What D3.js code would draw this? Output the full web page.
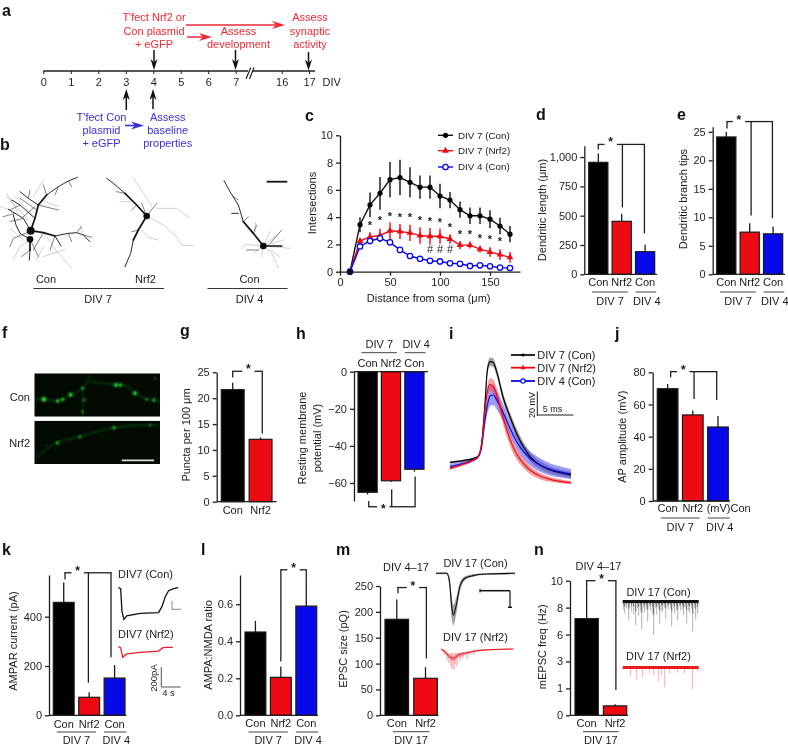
<!DOCTYPE html>
<html><head><meta charset="utf-8">
<script src="https://cdn.jsdelivr.net/npm/d3@7"></script>
<style>
html,body{margin:0;padding:0;background:#fff}
svg{display:block;filter:blur(.35px)}
text{font-family:"Liberation Sans",Arial,sans-serif;fill:#1a1a1a}
</style></head><body>
<script>
// ---------- DATA ----------
const timelineDays=[0,1,2,3,4,5,6,7,16,17];
const shollDist=[10,20,30,40,50,60,70,80,90,100,110,120,130,140,150,160,170];
const shollCon7=[0,3.45,4.9,5.75,6.75,6.9,6.55,6.2,6.2,5.55,5.25,4.55,4.1,4.1,3.85,3.35,2.75];
const shollCon7Err=[0,.55,.9,1.2,1.3,1.3,1.1,.85,.85,.9,.6,.6,.6,.6,.65,.6,.6];
const shollNrf2=[0,2.25,2.55,2.65,3,2.95,2.85,2.65,2.6,2.6,2.4,1.95,1.95,1.65,1.45,1.25,1.05];
const shollNrf2Err=[0,.2,.35,.5,.6,.55,.6,.6,.6,.55,.35,.3,.25,.25,.35,.4,.4];
const shollCon4=[0,1.85,2.25,2.45,2.15,1.6,1.15,.95,.8,.75,.62,.58,.42,.47,.4,.3,.27];
const shollStarDist=[30,40,50,60,70,80,90,100,110,120,130,140,150,160];
const shollStarY=[3.42,3.74,4.03,3.96,3.98,3.74,3.67,3.6,3.25,2.76,2.76,2.44,2.37,2.2];
const shollHashDist=[90,100,110];
const shollHashY=[1.65,1.65,1.65];
const shollLegend=['DIV 7 (Con)','DIV 7 (Nrf2)','DIV 4 (Con)'];

const threeCats=['Con','Nrf2','Con'];
const twoCats=['Con','Nrf2'];
const lengthVals=[955,452,193], lengthErr=[76,65,60];
const tipsVals=[24.1,7.4,7.1], tipsErr=[.85,1.56,1.3];
const punctaVals=[21.65,12.05], punctaErr=[1.35,.35];
const rmpVals=[-65,-58.8,-52.6], rmpErr=[1.2,.6,1.3];
const apVals=[69.8,53.5,46], apErr=[2.9,2.7,6.8];
const apCats=['Con','Nrf2','(mV)Con'];
const ampaVals=[458,73,151], ampaErr=[81,20,53];
const ratioVals=[.45,.205,.59], ratioErr=[.06,.058,.15];
const epscVals=[185.6,71.5], epscErr=[38.4,21.5];
const freqVals=[7.18,.7], freqErr=[2.25,.12];
const freqTickLabels=['0','1','3','6','8','10'];

const apTimes=[0,1.85,3.24,3.94,4.4,4.86,5.19,5.56,6.02,6.48,7.41,8.33,9.26,10.19,11.11,12.5,13.89,15.28,16.8];
const apCon7=[17.2,18.4,19.8,21.6,30.6,58.8,82.4,88.2,87.5,81.2,62.4,49.4,37.6,28.2,21.2,15.3,11.8,9.9,8.2];
const apNrf2=[12.9,16,18.8,21.6,30.6,54.1,67.1,72,70.6,64.7,48.2,33.4,23.1,16.5,11.8,7.5,5.2,3.8,2.8];
const apCon4=[14.1,16.5,18.8,21.2,28.2,47.1,57.6,64,64.7,61.2,51.8,41.2,31.8,24.7,20,15.3,12.2,10.4,9];
const apCon7Sem=[.8,.8,.8,.8,1,2,3,3,3,3,3,3,3.3,3.3,3,2.8,2.5,2.3,2.2];
const apNrf2Sem=[1,1,1,1,1.5,3,4,4.5,5,5,5,4.5,4,3.3,2.8,2.2,1.8,1.4,1.2];
const apCon4Sem=[2,1.5,1,1,1.5,4,6,7,7,6.5,6,5.5,5,5,5,4.8,4.4,4,3.5];

const ampaTraceConT=[0,.48,.76,1.17,1.72,4.48,8.28,8.97,9.66,10.34,11.38,12.28];
const ampaTraceConI=[0,-10,-236,-312,-279,-253,-246,-187,-89,-30,-10,0];
const ampaTraceNrfT=[0,.48,.9,1.72,4.48,8.28,9.17,10,11.24];
const ampaTraceNrfI=[0,-10,-105,-72,-56,-43,-10,-7,-7];

const epscConT=[0,10.7,13.3,15.7,17.3,20,24,29,37,50.7,79];
const epscConI=[0,0,-7,-33,-42,-33,-13,-5,-2.3,-.7,0];
const epscConLo=[-1,-1,-12,-45,-52,-42,-18,-7,-3.5,-1.5,-1];
const epscConHi=[.8,1,-3,-22,-32,-25,-9,-3,-1,0,.8];
const epscNrfT=[5,9,14,17.3,22.3,30.7,40.7,54,77.3];
const epscNrfI=[0,-2.7,-8.3,-9.3,-6,-3.7,-1.7,-.7,0];
const epscNrfLo=[-1,-5,-10,-12,-9,-5.5,-3,-1.5,-.6];
const epscNrfHi=[.5,-1,-6,-7,-4,-2.7,-1,0,.5];
const epscNrfSpikeT=[8,11,13,15,16,18,19,21,24,27,31,34,38,42,47];
const epscNrfSpikeI=[-6,-11,-14,-17,-20,-21,-15,-17,-12,-9,-10,-6,-6,-4,-3];

const miniConT=[1,2,4,6,7,9,11,13,15,16,18,19,21,22,24,25,27,28,30,31,33,34,36,37,39,40,42,43,45,46,48,49,51,52,54,55,57,58,60,61,63,64,66,67,69,70,72,73,75];
const miniConA=[8,12,7,18,6,10,13,24,7,14,9,28,6,11,8,20,5,9,12,33,6,13,7,22,9,10,6,17,5,8,7,25,6,12,9,19,5,9,8,14,6,22,9,11,7,30,6,18,12];
const miniNrfT=[8,14,20,27,31,36,39,42,47,55,62,70,75];
const miniNrfA=[9,12,10,6,8,14,8,20,6,5,6,22,4];

const neuronThick=[
 [[92,242],[105,205],[115,165],[140,135]],
 [[92,242],[130,248],[165,258]],
 [[90,268],[90,300]],
 [[440,198],[410,165],[375,130]],
 [[440,198],[415,240],[400,270]],
 [[790,288],[760,250],[730,215]],
 [[790,288],[845,288]]];
const neuronMedium=[
 [[140,135],[175,110],[205,93],[232,82]],
 [[165,258],[205,250],[230,248],[250,255],[270,275]],
 [[165,258],[183,288]],
 [[90,300],[88,330]],
 [[92,242],[70,205],[45,190],[25,178]],
 [[105,205],[60,165],[35,150]],
 [[115,165],[85,145],[60,125]],
 [[90,268],[60,250],[48,225],[40,195]],
 [[375,130],[340,100],[320,85]],
 [[400,270],[392,310],[375,350]],
 [[730,215],[715,165],[690,125],[672,92]],
 [[715,190],[695,190]]];
const neuronTwig=[
 [[60,165],[30,180]],[[70,205],[30,215]],[[45,190],[10,200]],[[85,145],[90,120]],[[110,180],[60,145]],
 [[115,165],[175,180]],[[140,135],[130,105]],[[175,110],[165,135]],[[205,93],[215,110]],[[130,248],[100,300]],
 [[165,258],[150,300]],[[205,250],[215,275]],[[230,248],[245,230]],[[250,255],[275,262]],[[90,268],[115,320]],
 [[90,300],[65,320]],[[88,245],[40,265],[30,290]],[[105,170],[70,200]],
 [[440,198],[470,160]],[[440,198],[425,160]],[[410,165],[395,180]],[[375,130],[350,125]],[[415,240],[395,245]],
 [[730,215],[745,200]],[[760,250],[770,225]],[[700,140],[715,150]],[[775,300],[740,300]],[[810,280],[845,240]]];
const neuronThin=[
 [[25,178],[0,170]],[[125,150],[175,170]],[[90,268],[60,290],[40,328]],
 [[130,248],[175,310],[215,355]],[[130,290],[110,330]],[[195,298],[130,320]],
 [[240,225],[250,255]],[[100,140],[130,90]],[[55,190],[20,130]],[[70,270],[30,235]],
 [[85,210],[20,140]],[[95,190],[45,140]],
 [[440,198],[490,225],[525,255],[545,285],[580,287]],
 [[440,198],[400,155],[360,155]],[[425,240],[445,262],[475,270]],
 [[455,170],[430,130],[400,85]],[[470,175],[530,175],[570,205]],
 [[790,288],[735,283],[725,295]],[[790,288],[810,245]],[[790,288],[830,255]],
 [[790,288],[815,310],[835,355]],[[790,288],[785,320]],[[790,288],[870,295]],
 [[765,245],[767,215]],[[790,288],[760,310]],[[790,288],[850,270]],[[810,300],[840,320]]];
const neuronSomaX=[92,90,440,790], neuronSomaY=[242,268,198,288], neuronSomaR=[12,10,10,10];

const conDendrites=[[[2,75],[27,78],[77,82],[112,62],[145,45],[167,5]],[[145,45],[147,130]],[[167,25],[247,35],[282,40],[302,60],[337,78],[362,80],[377,90]]];
const conPunctaX=[29,70,85,109,145,150,144,245,258,302,337,359,362];
const conPunctaY=[78,83,78,64,45,80,115,35,35,60,78,80,15];
const conPunctaR=[7,5,5,6,4,3.5,3.5,6,5,6,3.5,4.5,2.5];
const nrfDendrites=[[[7,110],[67,66],[137,48],[237,21],[347,13],[377,16]]];
const nrfPunctaX=[69,137,239,347,37,10];
const nrfPunctaY=[66,48,21,14,75,106];
const nrfPunctaR=[4.5,3.5,4.5,3,1.5,1.5];

// ---------- HELPERS ----------
const W=788,H=746,INK='#1f1f1f',RED='#ee0a12',BLUE='#0808e8',TRED='#ee2a35',TBLUE='#3a30d8';
const svg=d3.select('body').append('svg').attr('width',W).attr('height',H).attr('viewBox',`0 0 ${W} ${H}`);
svg.append('rect').attr('width',W).attr('height',H).attr('fill','#fff');
const defs=svg.append('defs');
defs.append('filter').attr('id','glow').attr('x','-60%').attr('y','-60%').attr('width','220%').attr('height','220%')
 .append('feGaussianBlur').attr('stdDeviation',1);

function T(x,y,s,o={}){
 const t=svg.append('text').attr('x',x).attr('y',y).attr('dy',o.dy??'.35em').text(s)
  .attr('font-size',o.size||11).attr('text-anchor',o.anchor||'middle');
 if(o.fill)t.style('fill',o.fill);
 if(o.weight)t.attr('font-weight',o.weight);
 if(o.rot)t.attr('transform',`rotate(${o.rot} ${x} ${y})`);
 return t;
}
function L(x1,y1,x2,y2,o={}){
 return svg.append('line').attr('x1',x1).attr('y1',y1).attr('x2',x2).attr('y2',y2)
  .attr('stroke',o.c||INK).attr('stroke-width',o.w||1.3).attr('stroke-linecap',o.cap||'butt');
}
function arrow(x1,y1,x2,y2,c,hl=10,hw=7,w=1.5){
 const d=Math.hypot(x2-x1,y2-y1),ux=(x2-x1)/d,uy=(y2-y1)/d,nx=-uy,ny=ux;
 L(x1,y1,x2-ux*hl*.7,y2-uy*hl*.7,{c,w});
 const p=[[x2,y2],[x2-ux*hl+nx*hw/2,y2-uy*hl+ny*hw/2],[x2-ux*hl*.7,y2-uy*hl*.7],[x2-ux*hl-nx*hw/2,y2-uy*hl-ny*hw/2]];
 svg.append('polygon').attr('points',p.map(q=>q.join(',')).join(' ')).attr('fill',c);
}
function letter(x,y,s){T(x,y,s,{size:16,weight:'bold',anchor:'start',dy:0,fill:'#111'})}
function styleAxis(g,size=11){
 g.selectAll('path,line').attr('stroke',INK).attr('stroke-width',1.3);
 g.selectAll('text').attr('font-size',size).style('fill',INK);
}
function barPanel(p){
 const y=d3.scaleLinear().domain(p.dom).range(p.yr);
 const x=d3.scaleBand().domain(d3.range(p.vals.length)).range(p.bars).paddingInner(p.pad||.18);
 const step=x.step(),cx=i=>x(0)+x.bandwidth()/2+i*step;
 const colors=p.colors||['#000',RED,BLUE];
 svg.append('g').selectAll('rect').data(p.vals).join('rect')
  .attr('x',(d,i)=>x(i)).attr('width',x.bandwidth())
  .attr('y',d=>Math.min(y(d),y(0))).attr('height',d=>Math.abs(y(d)-y(0)))
  .attr('fill',(d,i)=>colors[i]).attr('stroke','#1a1a1a').attr('stroke-width',1.2);
 svg.append('g').selectAll('line').data(p.vals).join('line')
  .attr('x1',(d,i)=>cx(i)).attr('x2',(d,i)=>cx(i)).attr('y1',d=>y(d))
  .attr('y2',(d,i)=>y(d+Math.sign(d)*p.errs[i])).attr('stroke','#1a1a1a').attr('stroke-width',1.3);
 const ax=d3.axisLeft(y).tickValues(p.ticks).tickSize(4).tickSizeOuter(0).tickPadding(3);
 if(p.fmt)ax.tickFormat(p.fmt);
 styleAxis(svg.append('g').attr('transform',`translate(${p.ax},0)`).call(ax));
 L(p.ax,y(0),p.xEnd,y(0));
 p.cats.forEach((c,i)=>{
  if(p.catAnchor&&p.catAnchor[i]) T(p.catAnchor[i],p.labY,c,{anchor:'start'});
  else T(cx(i),p.labY,c);
 });
 (p.groups||[]).forEach(g=>{
  const multi=g.a!==g.b,ins=p.inset||3.5;
  const x1=x(g.a)+(multi?ins:0),x2=x(g.b)+x.bandwidth()+(multi?-ins:1.5);
  L(x1,p.lineY,x2,p.lineY,{c:'#444',w:1});
  T((x1+x2)/2+(multi?0:1),p.grpY,g.t);
 });
 if(p.ttl)p.ttl.forEach(t=>T(t[0],t[1],t[2],{rot:-90}));
 const b=p.br;
 if(b){
  const ty=y(b.top),xs=b.xs.map(cx),sx=cx(b.star),gap=6.2,dir=b.below?1:-1;
  L(xs[0],y(b.drops[0]),xs[0],ty);
  const lastX=xs[xs.length-1];
  L(xs[0]-.65,ty,sx-gap,ty);
  L(sx+gap,ty,lastX+.65,ty);
  xs.forEach((xx,i)=>{if(i)L(xx,ty,xx,y(b.drops[i]))});
  T(sx,ty+dir*2+4,'*',{size:12,dy:0,weight:'bold'});
 }
 return {x,y,cx};
}

// ---------- PANEL LETTERS / A ----------
letter(2,16,'a'); letter(0,150,'b'); letter(305,121,'c'); letter(536,120,'d'); letter(677,120,'e');
letter(2,338,'f'); letter(180,336,'g'); letter(296,339,'h'); letter(449,339,'i'); letter(615,339,'j');
letter(2,555,'k'); letter(201,555,'l'); letter(336,555,'m'); letter(534,555,'n');

const dayX=d3.scaleLinear().domain([0,7,16,17]).range([43.3,235.7,281.7,309]);
const tlAxis=d3.axisBottom(dayX).tickValues(timelineDays).tickFormat(d3.format('d')).tickSize(3).tickPadding(4);
const tl=svg.append('g').attr('transform','translate(0,71)').call(tlAxis);
styleAxis(tl); tl.select('.domain').remove(); tl.selectAll('line').attr('stroke-width',1);
L(dayX(0),71,248,71,{w:1.4}); L(253,71,315,71,{w:1.4});
L(246,79,250.7,67.5,{w:1.2}); L(249.5,79,254,67.5,{w:1.2});
T(322.5,82,'DIV',{anchor:'start'});
[['T\'fect Nrf2 or',17],['Con plasmid',31],['+ eGFP',44]].forEach(a=>T(154,a[1],a[0],{fill:TRED}));
[['Assess',31],['development',44]].forEach(a=>T(238.5,a[1],a[0],{fill:TRED}));
[['Assess',17],['synaptic',31],['activity',44]].forEach(a=>T(310,a[1],a[0],{fill:TRED}));
[['T\'fect Con',116.7],['plasmid',130],['+ eGFP',143]].forEach(a=>T(101.5,a[1],a[0],{fill:TBLUE}));
[['Assess',116.7],['baseline',130],['properties',143]].forEach(a=>T(167.7,a[1],a[0],{fill:TBLUE}));
arrow(186,25,285,25,TRED,13,8); arrow(187,37,212,37,TRED,13,8); arrow(125,125.5,144,125.5,TBLUE,13,8,1.6);
arrow(154,50,154,70,'#111',11,7); arrow(235.5,50,235.5,70,'#111',11,7); arrow(308.5,52,308.5,70.5,'#111',11,7);
arrow(126.3,110,126.3,89,'#111',11,7); arrow(153,109,153,89,'#111',11,7);

// ---------- PANEL B ----------
const nx=d3.scaleLinear().domain([0,900]).range([0,300]);
const ny=d3.scaleLinear().domain([0,510]).range([150,320]);
const nLine=d3.line().x(d=>nx(d[0])).y(d=>ny(d[1]));
const nG=svg.append('g').attr('fill','none').attr('stroke-linecap','round').attr('stroke-linejoin','round');
[[neuronThin,'#b0b0b0',.6],[neuronTwig,'#555',.75],[neuronMedium,'#2a2a2a',1],[neuronThick,'#111',1.7]].forEach(([arr,c,w])=>{
 nG.selectAll(null).data(arr).join('path').attr('d',nLine).attr('stroke',c).attr('stroke-width',w);
});
svg.append('g').selectAll('circle').data(neuronSomaX).join('circle')
 .attr('cx',d=>nx(d)).attr('cy',(d,i)=>ny(neuronSomaY[i])).attr('r',(d,i)=>nx(neuronSomaR[i])).attr('fill','#0a0a0a');
L(266.7,181.7,287.3,181.7,{w:1.8,c:'#111'});
T(46,279.5,'Con'); T(145.5,279.5,'Nrf2'); T(249.5,279.5,'Con');
L(33.5,288.5,164,288.5,{c:'#333',w:1.1}); L(207.5,288.5,287.5,288.5,{c:'#333',w:1.1});
T(98,299.5,'DIV 7'); T(249.5,299.5,'DIV 4');

// ---------- PANEL C ----------
const cx=d3.scaleLinear().domain([0,180]).range([340,520]);
const cy=d3.scaleLinear().domain([0,10]).range([271.7,135.3]);
const cg=svg.append('g');
const cLine=d3.line().x((d,i)=>cx(shollDist[i])).y(d=>cy(d));
[[shollCon7,shollCon7Err,'#111'],[shollNrf2,shollNrf2Err,RED]].forEach(([v,e,c])=>{
 cg.append('g').selectAll('line').data(v).join('line')
  .attr('x1',(d,i)=>cx(shollDist[i])).attr('x2',(d,i)=>cx(shollDist[i]))
  .attr('y1',(d,i)=>cy(d-e[i])).attr('y2',(d,i)=>cy(d+e[i])).attr('stroke',c).attr('stroke-width',1.4);
});
cg.append('path').attr('d',cLine(shollCon7)).attr('fill','none').attr('stroke','#111').attr('stroke-width',1.4);
cg.append('path').attr('d',cLine(shollNrf2)).attr('fill','none').attr('stroke',RED).attr('stroke-width',1.4);
cg.append('path').attr('d',cLine(shollCon4)).attr('fill','none').attr('stroke',BLUE).attr('stroke-width',1.4);
cg.append('g').selectAll('circle').data(shollCon7).join('circle').attr('cx',(d,i)=>cx(shollDist[i])).attr('cy',d=>cy(d)).attr('r',2.6).attr('fill','#000');
const tri=d3.symbol().type(d3.symbolTriangle).size(20);
cg.append('g').selectAll('path').data(shollNrf2).join('path').attr('d',tri).attr('transform',(d,i)=>`translate(${cx(shollDist[i])},${cy(d)})`).attr('fill',RED);
cg.append('g').selectAll('circle').data(shollCon4).join('circle').attr('cx',(d,i)=>cx(shollDist[i])).attr('cy',d=>cy(d)).attr('r',2.7).attr('fill','#fff').attr('stroke',BLUE).attr('stroke-width',1.3);
svg.append('circle').attr('cx',cx(10)).attr('cy',cy(0)).attr('r',2.8).attr('fill','#000');
shollStarDist.forEach((d,i)=>T(cx(d),cy(shollStarY[i])+3.5,'*',{size:11,dy:0,weight:'bold'}));
shollHashDist.forEach((d,i)=>T(cx(d),cy(shollHashY[i]),'#',{size:11}));
styleAxis(svg.append('g').attr('transform','translate(0,271.7)').call(d3.axisBottom(cx).tickValues([0,50,100,150]).tickSize(4).tickSizeOuter(0).tickPadding(3)));
styleAxis(svg.append('g').attr('transform','translate(340,0)').call(d3.axisLeft(cy).tickValues([0,2,4,6,8,10]).tickSize(4).tickSizeOuter(0).tickPadding(3)));
T(428.7,298.3,'Distance from soma (μm)');
T(311.7,203,'Intersections',{rot:-90});
const legC=[135.3,150.7,167];
L(438,legC[0],453,legC[0],{c:'#111',w:1.4}); svg.append('circle').attr('cx',445.5).attr('cy',legC[0]).attr('r',2.6).attr('fill','#000');
L(438,legC[1],453,legC[1],{c:RED,w:1.4}); svg.append('path').attr('d',tri).attr('transform',`translate(445.5,${legC[1]})`).attr('fill',RED);
L(438,legC[2],453,legC[2],{c:BLUE,w:1.4}); svg.append('circle').attr('cx',445.5).attr('cy',legC[2]).attr('r',2.7).attr('fill','#fff').attr('stroke',BLUE).attr('stroke-width',1.3);
shollLegend.forEach((s,i)=>T(458,legC[i],s,{anchor:'start',size:9.8}));

// ---------- BAR PANELS ----------
const grp3=[{t:'DIV 7',a:0,b:1},{t:'DIV 4',a:2,b:2}];
barPanel({vals:lengthVals,errs:lengthErr,cats:threeCats,ax:584.3,bars:[588.7,654.7],xEnd:657,
 dom:[0,1097],yr:[274.3,145.7],ticks:[0,250,500,750,1000],fmt:d3.format(','),labY:282.5,lineY:292,grpY:300.7,groups:grp3,
 ttl:[[541.7,210,'Dendritic length (μm)']],
 br:{top:1108,xs:[0,1.03,1.97],star:.53,drops:[1065,571,349]}});
barPanel({vals:tipsVals,errs:tipsErr,cats:threeCats,ax:712.7,bars:[716.7,782.7],xEnd:785,
 dom:[0,25.9],yr:[274.3,126.7],ticks:[0,5,10,15,20,25],labY:282.5,lineY:292,grpY:300.7,groups:grp3,
 ttl:[[682.7,199,'Dendritic branch tips']],
 br:{top:26.8,xs:[.03,1.06,1.97],star:.54,drops:[25.6,10.3,9.84]}});
barPanel({vals:punctaVals,errs:punctaErr,cats:twoCats,ax:216.7,bars:[221.3,272],xEnd:276.7,
 dom:[0,25],yr:[501.7,372.3],ticks:[0,5,10,15,20,25],labY:510.5,
 ttl:[[185.7,435,'Puncta per 100 μm']],
 br:{top:25.2,xs:[0,1.06],star:.56,drops:[24,13.2]}});
barPanel({vals:rmpVals,errs:rmpErr,cats:threeCats,ax:354,bars:[358,424],xEnd:428,
 dom:[-69.7,0],yr:[501,371.7],ticks:[-60,-40,-20,0],labY:363,lineY:352.7,grpY:344,groups:grp3,
 ttl:[[301.7,438,'Resting membrane'],[316.7,438,'potential (mV)']],
 br:{top:-72.8,xs:[.05,1.03,2.03],star:.67,below:true,drops:[-69.7,-63.4,-56.5]}});
barPanel({vals:apVals,errs:apErr,cats:apCats,catAnchor:[0,0,706.7],ax:652.7,bars:[657.3,728.3],xEnd:730,
 dom:[0,80],yr:[501,372.3],ticks:[0,20,40,60,80],labY:508.5,lineY:518,grpY:526.7,groups:grp3,
 ttl:[[622,436.7,'AP amplitude (mV)']],
 br:{top:80.4,xs:[.12,1.05,1.95],star:.62,drops:[76.9,63.4,62.8]}});
barPanel({vals:ampaVals,errs:ampaErr,cats:threeCats,ax:49,bars:[53.3,125],xEnd:126.5,
 dom:[0,569],yr:[715.3,575],ticks:[0,200,400],labY:724.3,lineY:732,grpY:740,groups:grp3,
 ttl:[[12.7,641,'AMPAR current (pA)']],
 br:{top:578,xs:[.05,.97,1.86],star:.55,drops:[551,132,235]}});
barPanel({vals:ratioVals,errs:ratioErr,cats:threeCats,ax:240,bars:[245,316.7],xEnd:318,
 dom:[0,.758],yr:[715.3,575],ticks:[0,.2,.4,.6],fmt:d3.format('.1f'),labY:723.3,lineY:732,grpY:740,groups:grp3,
 ttl:[[207.7,645,'AMPA:NMDA ratio']],
 br:{top:.786,xs:[1,2],star:1.5,drops:[.29,.74]}});
barPanel({vals:epscVals,errs:epscErr,cats:twoCats,ax:380,bars:[385,437.3],xEnd:438.5,
 dom:[0,250],yr:[715.3,586],ticks:[0,50,100,150,200,250],labY:723.5,lineY:731.7,grpY:740,inset:8,groups:[{t:'DIV 17',a:0,b:1}],
 ttl:[[343,649,'EPSC size (pQ)']],
 br:{top:247,xs:[.04,1.03],star:.56,drops:[236,110]}});
T(406,567,'DIV 4–17');
barPanel({vals:freqVals,errs:freqErr,cats:twoCats,ax:570,bars:[575,626.7],xEnd:628,
 dom:[0,10],yr:[715.3,580.7],ticks:[0,2,4,6,8,10],fmt:(d,i)=>freqTickLabels[i],labY:723.5,lineY:731.7,grpY:740,inset:8,groups:[{t:'DIV 17',a:0,b:1}],
 ttl:[[541.7,646.7,'mEPSC freq (Hz)']],
 br:{top:10,xs:[0,1.03],star:.53,drops:[9.43,1.88]}});
T(598.5,565.7,'DIV 4–17');

// ---------- PANEL F ----------
function fluor(x0,y0,dendrites,px,py,pr,id){
 const sx=d3.scaleLinear().domain([0,377]).range([x0,160]);
 const sy=d3.scaleLinear().domain([0,130]).range([y0,y0+43.4]);
 defs.append('clipPath').attr('id',id).append('rect').attr('x',x0).attr('y',y0).attr('width',160-x0).attr('height',43.4);
 const g=svg.append('g').attr('clip-path',`url(#${id})`);
 g.append('rect').attr('x',x0).attr('y',y0).attr('width',160-x0).attr('height',43.4).attr('fill','#020a02');
 const ln=d3.line().x(d=>sx(d[0])).y(d=>sy(d[1])).curve(d3.curveCatmullRom);
 g.selectAll('path').data(dendrites).join('path').attr('d',ln).attr('fill','none').attr('stroke','#138a20').attr('stroke-width',.7).attr('filter','url(#glow)');
 g.selectAll('circle').data(px).join('circle').attr('cx',d=>sx(d)).attr('cy',(d,i)=>sy(py[i])).attr('r',(d,i)=>sx(pr[i])-x0)
  .attr('fill','#2fe63a').attr('filter','url(#glow)');
}
fluor(34.3,373.3,conDendrites,conPunctaX,conPunctaY,conPunctaR,'fc');
fluor(34.3,420.7,nrfDendrites,nrfPunctaX,nrfPunctaY,nrfPunctaR,'fn');
L(121.7,460.3,154,460.3,{c:'#ddd',w:1.8});
T(30,397.3,'Con',{anchor:'end'}); T(30,443.3,'Nrf2',{anchor:'end'});

// ---------- PANEL I ----------
const it=d3.scaleLinear().domain([0,16.8]).range([450,571]);
const iv=d3.scaleLinear().domain([0,100]).range([486.67,345]);
const bandA=(v,e)=>d3.area().curve(d3.curveMonotoneX).x((d,i)=>it(apTimes[i])).y0((d,i)=>iv(v[i]-e[i])).y1((d,i)=>iv(v[i]+e[i]))(v);
const trace=d3.line().curve(d3.curveMonotoneX).x((d,i)=>it(apTimes[i])).y(d=>iv(d));
[[apCon7,apCon7Sem,'#555'],[apCon4,apCon4Sem,'#4a4af0'],[apNrf2,apNrf2Sem,'#f04a50']].forEach(([v,e,c])=>{
 svg.append('path').attr('d',bandA(v,e)).attr('fill',c).attr('opacity',.55);
});
[[apCon7,'#000'],[apCon4,BLUE],[apNrf2,RED]].forEach(([v,c])=>{
 svg.append('path').attr('d',trace(v)).attr('fill','none').attr('stroke',c).attr('stroke-width',1.2);
});
const legI=[355,367.7,381];
L(511,legI[0],535,legI[0],{c:'#111',w:1.8}); svg.append('circle').attr('cx',523).attr('cy',legI[0]).attr('r',1.6).attr('fill','#000');
L(511,legI[1],535,legI[1],{c:RED,w:1.8});
svg.append('path').attr('d',d3.symbol().type(d3.symbolTriangle).size(12)).attr('transform',`translate(523,${legI[1]})`).attr('fill',RED);
L(511,legI[2],535,legI[2],{c:BLUE,w:1.8}); svg.append('circle').attr('cx',523).attr('cy',legI[2]).attr('r',2.2).attr('fill','#fff').attr('stroke',BLUE).attr('stroke-width',1.2);
shollLegend.forEach((s,i)=>T(537.3,legI[i],s,{anchor:'start'}));
L(537.3,391.5,537.3,416,{w:1}); L(537,415,573.5,415,{w:1});
T(531.5,405,'20 mV',{size:9,rot:-90}); T(552.5,408.5,'5 ms',{size:9});

// ---------- PANEL K TRACES ----------
const kx=d3.scaleLinear().domain([0,12.28]).range([118.3,178]);
const kyC=d3.scaleLinear().domain([0,-312]).range([587.7,619.3]);
const kyN=d3.scaleLinear().domain([0,-105]).range([646.7,657.3]);
svg.append('path').attr('d',d3.line().x((d,i)=>kx(ampaTraceConT[i])).y(d=>kyC(d))(ampaTraceConI)).attr('fill','none').attr('stroke','#111').attr('stroke-width',1.3);
svg.append('path').attr('d',d3.line().x((d,i)=>kx(ampaTraceNrfT[i])).y(d=>kyN(d))(ampaTraceNrfI)).attr('fill','none').attr('stroke','#e82028').attr('stroke-width',1.3);
T(118,574.5,'DIV7 (Con)',{anchor:'start'}); T(118,634.5,'DIV7 (Nrf2)',{anchor:'start'});
L(172,601,172,609.5,{c:'#888',w:1}); L(172,609.3,181,609.3,{c:'#888',w:1});
L(161.3,667,161.3,687,{c:'#555',w:1}); L(161.3,687,180.7,687,{c:'#555',w:1});
T(153.5,678,'200pA',{size:9.5,rot:-90}); T(168.5,692.7,'4 s',{size:9.5});

// ---------- PANEL M TRACES ----------
const mx=d3.scaleLinear().domain([0,79]).range([436,515]);
const myC=d3.scaleLinear().domain([0,-52]).range([573.3,625.3]);
const myN=d3.scaleLinear().domain([0,-19]).range([649,668]);
const mArea=(t,lo,hi,ys)=>d3.area().curve(d3.curveMonotoneX).x((d,i)=>mx(t[i])).y0((d,i)=>ys(lo[i])).y1((d,i)=>ys(hi[i]))(t);
const mLine=(t,ys)=>d3.line().curve(d3.curveMonotoneX).x((d,i)=>mx(t[i])).y(d=>ys(d));
svg.append('path').attr('d',mArea(epscConT,epscConLo,epscConHi,myC)).attr('fill','#777').attr('opacity',.7);
svg.append('path').attr('d',mLine(epscConT,myC)(epscConI)).attr('fill','none').attr('stroke','#111').attr('stroke-width',1.1);
svg.append('path').attr('d',mArea(epscNrfT,epscNrfLo,epscNrfHi,myN)).attr('fill','#f3888c').attr('opacity',.8);
svg.append('g').selectAll('line').data(epscNrfSpikeT).join('line').attr('x1',d=>mx(d)).attr('x2',d=>mx(d))
 .attr('y1',myN(-4)).attr('y2',(d,i)=>myN(epscNrfSpikeI[i])).attr('stroke','#f3888c').attr('stroke-width',.9);
svg.append('path').attr('d',mLine(epscNrfT,myN)(epscNrfI)).attr('fill','none').attr('stroke','#e01822').attr('stroke-width',1);
T(475.5,563.5,'DIV 17 (Con)'); T(475.5,637.5,'DIV 17 (Nrf2)');
L(480,590.7,510,590.7,{w:1.5,c:'#111'}); L(510,590.7,510,607.3,{w:1.2,c:'#111'});
L(480,589,480,592.5,{w:1.2,c:'#111'}); L(508,607.3,512,607.3,{w:1.4,c:'#111'});

// ---------- PANEL N TRACES ----------
const nxT=d3.scaleLinear().domain([0,76]).range([622.7,698.7]);
const nyC=d3.scaleLinear().domain([0,-40]).range([601.5,641.5]);
const nyN=d3.scaleLinear().domain([0,-40]).range([667.5,707.5]);
svg.append('g').selectAll('line').data(miniConT).join('line').attr('x1',d=>nxT(d)).attr('x2',d=>nxT(d))
 .attr('y1',nyC(0)).attr('y2',(d,i)=>nyC(-miniConA[i])).attr('stroke','#a8a8a8').attr('stroke-width',.9);
svg.append('g').selectAll('line').data(miniConT).join('line').attr('x1',d=>nxT(d)).attr('x2',d=>nxT(d))
 .attr('y1',nyC(0)).attr('y2',(d,i)=>nyC(-miniConA[i]*.4)).attr('stroke','#666').attr('stroke-width',.9);
L(nxT(0),nyC(0),nxT(76),nyC(0),{c:'#111',w:3.2});
svg.append('g').selectAll('line').data(miniNrfT).join('line').attr('x1',d=>nxT(d)).attr('x2',d=>nxT(d))
 .attr('y1',nyN(0)).attr('y2',(d,i)=>nyN(-miniNrfA[i])).attr('stroke','#f4a6a9').attr('stroke-width',.9);
L(nxT(0),nyN(0),nxT(76),nyN(0),{c:'#ee1a22',w:2.8});
T(658.5,592.3,'DIV 17 (Con)'); T(658.5,656,'DIV 17 (Nrf2)');
</script>
</body></html>
